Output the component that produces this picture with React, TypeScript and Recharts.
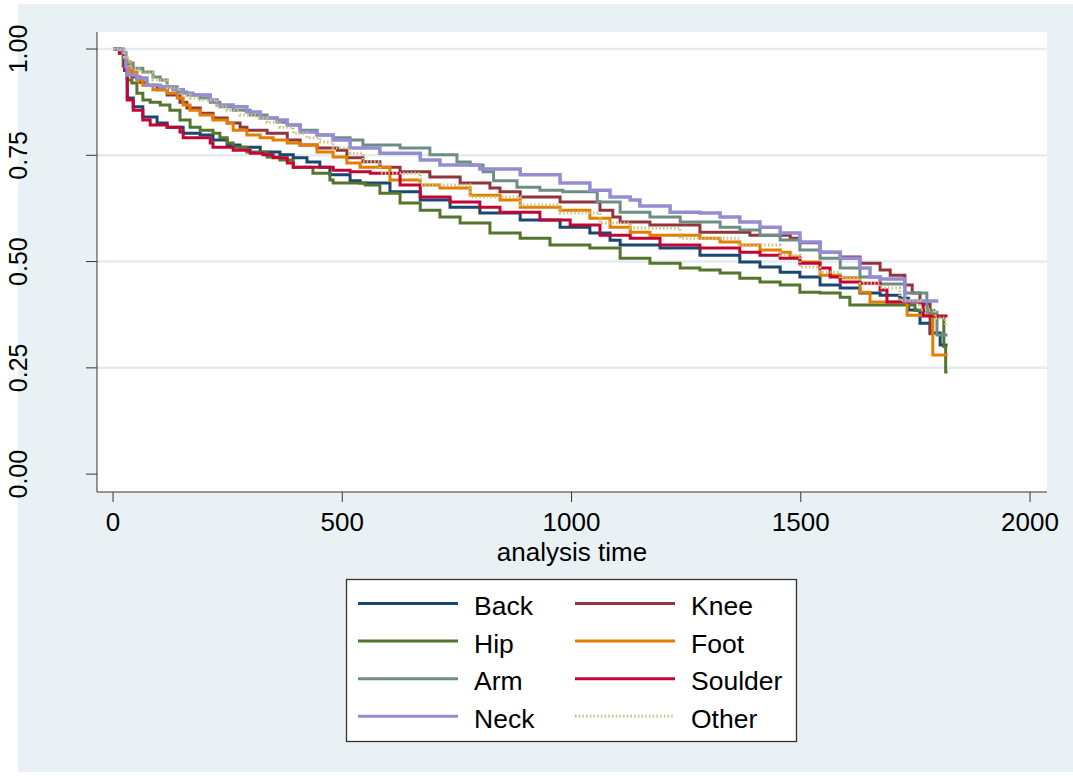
import { LineChart, Line, XAxis, YAxis, CartesianGrid, ReferenceLine } from "recharts";

type Pt = [number, number];

// Kaplan-Meier survival estimates, [analysis time, survival]
const back: Pt[] = [
  [0, 1], [14, 0.99], [25, 0.95], [31, 0.885], [44, 0.864], [65, 0.84], [96, 0.826], [118, 0.816],
  [153, 0.802], [190, 0.798], [218, 0.786], [249, 0.774], [277, 0.769], [321, 0.758], [364, 0.751],
  [393, 0.744], [423, 0.734], [451, 0.722], [473, 0.704], [517, 0.69], [539, 0.685], [604, 0.664],
  [670, 0.645], [735, 0.628], [800, 0.614], [888, 0.598], [975, 0.581], [1040, 0.567], [1084, 0.55],
  [1106, 0.539], [1193, 0.532], [1280, 0.515], [1367, 0.499], [1411, 0.487], [1455, 0.475],
  [1498, 0.464], [1542, 0.445], [1586, 0.438], [1629, 0.426], [1673, 0.421], [1716, 0.414],
  [1735, 0.386], [1760, 0.355], [1782, 0.332], [1804, 0.304], [1820, 0.304],
];

const knee: Pt[] = [
  [0, 1], [14, 0.99], [25, 0.97], [33, 0.951], [41, 0.934], [59, 0.922], [74, 0.915], [96, 0.904],
  [118, 0.892], [146, 0.875], [161, 0.861], [190, 0.849], [218, 0.838], [249, 0.826], [277, 0.816],
  [292, 0.809], [336, 0.802], [380, 0.786], [408, 0.774], [445, 0.767], [489, 0.762], [510, 0.744],
  [545, 0.735], [582, 0.722], [626, 0.711], [691, 0.699], [757, 0.685], [822, 0.673], [844, 0.664],
  [888, 0.652], [975, 0.64], [1062, 0.621], [1090, 0.605], [1106, 0.593], [1171, 0.586],
  [1280, 0.569], [1389, 0.562], [1477, 0.555], [1498, 0.544], [1542, 0.522], [1586, 0.511],
  [1629, 0.496], [1673, 0.48], [1695, 0.468], [1727, 0.445], [1743, 0.426], [1760, 0.4],
  [1782, 0.33], [1790, 0.33],
];

const hip: Pt[] = [
  [0, 1], [14, 0.99], [22, 0.96], [31, 0.927], [41, 0.92], [52, 0.896], [65, 0.88], [81, 0.875],
  [103, 0.868], [124, 0.856], [146, 0.833], [168, 0.816], [190, 0.809], [218, 0.802], [233, 0.791],
  [249, 0.779], [262, 0.769], [292, 0.758], [336, 0.746], [364, 0.739], [393, 0.722], [436, 0.708],
  [473, 0.692], [480, 0.685], [550, 0.68], [582, 0.661], [626, 0.638], [670, 0.621], [713, 0.605],
  [757, 0.591], [822, 0.567], [888, 0.555], [953, 0.539], [1040, 0.532], [1106, 0.508],
  [1171, 0.496], [1237, 0.485], [1280, 0.48], [1324, 0.473], [1367, 0.461], [1411, 0.452],
  [1455, 0.445], [1498, 0.428], [1542, 0.426], [1586, 0.416], [1607, 0.398], [1749, 0.385],
  [1790, 0.37], [1812, 0.3], [1816, 0.24], [1820, 0.24],
];

const foot: Pt[] = [
  [0, 1], [14, 0.99], [25, 0.97], [37, 0.946], [52, 0.927], [65, 0.915], [87, 0.904], [118, 0.896],
  [140, 0.885], [153, 0.868], [168, 0.856], [190, 0.845], [218, 0.833], [249, 0.826], [262, 0.809],
  [292, 0.798], [321, 0.791], [349, 0.786], [380, 0.779], [408, 0.774], [445, 0.758], [480, 0.746],
  [510, 0.732], [539, 0.722], [604, 0.692], [670, 0.68], [713, 0.673], [779, 0.656], [844, 0.645],
  [888, 0.628], [975, 0.621], [1040, 0.602], [1084, 0.581], [1128, 0.569], [1171, 0.562],
  [1280, 0.555], [1324, 0.546], [1367, 0.539], [1411, 0.527], [1455, 0.522], [1477, 0.511],
  [1498, 0.499], [1542, 0.468], [1586, 0.462], [1629, 0.428], [1651, 0.405], [1732, 0.374],
  [1788, 0.28], [1820, 0.28],
];

const arm: Pt[] = [
  [0, 1], [14, 0.99], [25, 0.975], [31, 0.967], [44, 0.955], [65, 0.946], [87, 0.934], [103, 0.927],
  [118, 0.911], [140, 0.899], [161, 0.892], [190, 0.885], [212, 0.875], [233, 0.864], [262, 0.856],
  [299, 0.845], [336, 0.838], [358, 0.828], [380, 0.821], [408, 0.809], [445, 0.798], [480, 0.791],
  [517, 0.786], [545, 0.774], [626, 0.767], [691, 0.751], [750, 0.734], [779, 0.727], [807, 0.711],
  [830, 0.69], [881, 0.675], [931, 0.668], [981, 0.664], [1056, 0.64], [1106, 0.616], [1171, 0.605],
  [1237, 0.593], [1324, 0.581], [1367, 0.574], [1411, 0.562], [1455, 0.551], [1498, 0.527],
  [1542, 0.508], [1586, 0.485], [1629, 0.464], [1673, 0.447], [1727, 0.426], [1775, 0.381],
  [1797, 0.327], [1820, 0.327],
];

const soulder: Pt[] = [
  [0, 1], [14, 0.99], [25, 0.95], [31, 0.88], [44, 0.856], [65, 0.833], [81, 0.821], [118, 0.816],
  [146, 0.805], [153, 0.791], [212, 0.779], [218, 0.769], [262, 0.762], [299, 0.755], [327, 0.751],
  [349, 0.744], [380, 0.732], [393, 0.722], [480, 0.715], [517, 0.711], [561, 0.708], [626, 0.68],
  [670, 0.652], [735, 0.64], [800, 0.628], [844, 0.616], [931, 0.598], [997, 0.586], [1062, 0.562],
  [1128, 0.555], [1193, 0.539], [1280, 0.532], [1367, 0.522], [1411, 0.515], [1455, 0.508],
  [1498, 0.496], [1542, 0.485], [1564, 0.464], [1586, 0.452], [1629, 0.449], [1673, 0.433],
  [1688, 0.405], [1767, 0.372], [1820, 0.372],
];

const neck: Pt[] = [
  [0, 1], [22, 0.991], [28, 0.958], [31, 0.939], [52, 0.932], [74, 0.915], [103, 0.911], [131, 0.904],
  [153, 0.896], [174, 0.892], [212, 0.88], [227, 0.868], [262, 0.864], [292, 0.852], [321, 0.838],
  [358, 0.833], [380, 0.821], [408, 0.805], [445, 0.798], [480, 0.786], [517, 0.767], [582, 0.755],
  [670, 0.739], [713, 0.727], [800, 0.718], [888, 0.704], [975, 0.685], [1040, 0.668], [1084, 0.652],
  [1128, 0.645], [1149, 0.631], [1215, 0.616], [1280, 0.614], [1324, 0.605], [1367, 0.593],
  [1411, 0.581], [1455, 0.567], [1498, 0.546], [1542, 0.522], [1586, 0.508], [1629, 0.485],
  [1651, 0.464], [1673, 0.459], [1727, 0.407], [1800, 0.407],
];

const other: Pt[] = [
  [0, 1], [15, 0.998], [25, 0.98], [31, 0.974], [37, 0.955], [59, 0.944], [87, 0.927], [118, 0.908],
  [146, 0.892], [168, 0.885], [190, 0.88], [227, 0.864], [249, 0.856], [277, 0.845], [314, 0.838],
  [336, 0.828], [364, 0.816], [393, 0.802], [423, 0.791], [451, 0.781], [480, 0.767], [517, 0.755],
  [545, 0.735], [582, 0.708], [670, 0.68], [779, 0.652], [888, 0.633], [975, 0.614], [1062, 0.591],
  [1128, 0.579], [1237, 0.555], [1367, 0.539], [1455, 0.515], [1498, 0.487], [1542, 0.475],
  [1586, 0.461], [1629, 0.449], [1673, 0.438], [1716, 0.409], [1760, 0.386], [1793, 0.367],
  [1815, 0.35],
];

const xTicks = [0, 500, 1000, 1500, 2000];
const yTicks = [0, 0.25, 0.5, 0.75, 1];
const gridValues = [0.25, 0.5, 0.75, 1];

// plotted in this order; legend reads row by row
const series = [
  { name: "Back", color: "#1a476f", data: back },
  { name: "Knee", color: "#90353b", data: knee },
  { name: "Hip", color: "#55752f", data: hip },
  { name: "Foot", color: "#e37e00", data: foot },
  { name: "Arm", color: "#6e8e84", data: arm },
  { name: "Soulder", color: "#c10534", data: soulder },
  { name: "Neck", color: "#938dd2", data: neck },
  { name: "Other", color: "#cac27e", data: other, dash: "1.5 2.2" },
];

const FONT = "'Liberation Sans', Arial, sans-serif";
const BG = "#eaf1f4";
const GRID = "#e3ecf0";
const W = 1073;
const H = 776;

const YTick = (props: any) => {
  const { y, payload } = props;
  const bx = 27;
  return (
    <text
      x={bx}
      y={y}
      transform={`rotate(-90 ${bx} ${y})`}
      textAnchor="middle"
      fontSize={25}
      fontFamily={FONT}
      fill="#000"
    >
      {Number(payload.value).toFixed(2)}
    </text>
  );
};

const XTick = (props: any) => {
  const { x, y, payload } = props;
  return (
    <text x={x} y={y + 27} textAnchor="middle" fontSize={26} fontFamily={FONT} fill="#000">
      {payload.value}
    </text>
  );
};

const XTitle = (props: any) => {
  const vb = props.viewBox || {};
  return (
    <text x={vb.x + vb.width / 2} y={561} textAnchor="middle" fontSize={26} fontFamily={FONT} fill="#000">
      analysis time
    </text>
  );
};

function KeyBox() {
  return (
    <svg
      width={W}
      height={H}
      style={{ position: "absolute", left: 0, top: 0, pointerEvents: "none" }}
    >
      <rect x={346.5} y={579.5} width={450} height={162} fill="#fff" stroke="#333" strokeWidth={1.3} />
      {series.map((s, i) => {
        const col = i % 2;
        const row = Math.floor(i / 2);
        const ly = 603.5 + row * 37.6;
        const x0 = col === 0 ? 358 : 575;
        return (
          <g key={s.name}>
            <line
              x1={x0}
              x2={x0 + 100}
              y1={ly}
              y2={ly}
              stroke={s.color}
              strokeWidth={3}
              strokeDasharray={s.dash}
            />
            <text x={x0 + 116} y={ly + 11.5} fontSize={26.5} fontFamily={FONT} fill="#000">
              {s.name}
            </text>
          </g>
        );
      })}
    </svg>
  );
}

export default function App() {
  return (
    <div style={{ position: "absolute", left: 0, top: 0, width: W, height: H, overflow: "hidden" }}>
      <div style={{ position: "absolute", left: 18, top: 4, width: W - 18, height: 768, background: BG }} />
      <div style={{ position: "absolute", left: 0, top: 0 }}>
        <LineChart width={W} height={H} margin={{ top: 32, right: 26, bottom: 214, left: 18 }}>
          <CartesianGrid horizontal={false} vertical={false} fill="#fff" />
          {gridValues.map((v) => (
            <ReferenceLine key={v} y={v} stroke={GRID} strokeWidth={2.5} />
          ))}
          <XAxis
            dataKey="t"
            type="number"
            domain={[-35, 2037]}
            ticks={xTicks}
            allowDuplicatedCategory={false}
            height={70}
            tickSize={10}
            tickMargin={2}
            stroke="#333"
            tick={<XTick />}
            label={<XTitle />}
          />
          <YAxis
            dataKey="s"
            type="number"
            domain={[-0.042, 1.04]}
            ticks={yTicks}
            width={79}
            tickSize={11}
            stroke="#333"
            tick={<YTick />}
          />
          {series.map((s) => (
            <Line
              key={s.name}
              name={s.name}
              data={s.data.map(([t, v]) => ({ t, s: v }))}
              dataKey="s"
              type="stepAfter"
              stroke={s.color}
              strokeWidth={s.name === "Neck" ? 3.5 : 3}
              strokeDasharray={s.dash}
              dot={false}
              activeDot={false}
              isAnimationActive={false}
            />
          ))}
        </LineChart>
      </div>
      <KeyBox />
    </div>
  );
}
